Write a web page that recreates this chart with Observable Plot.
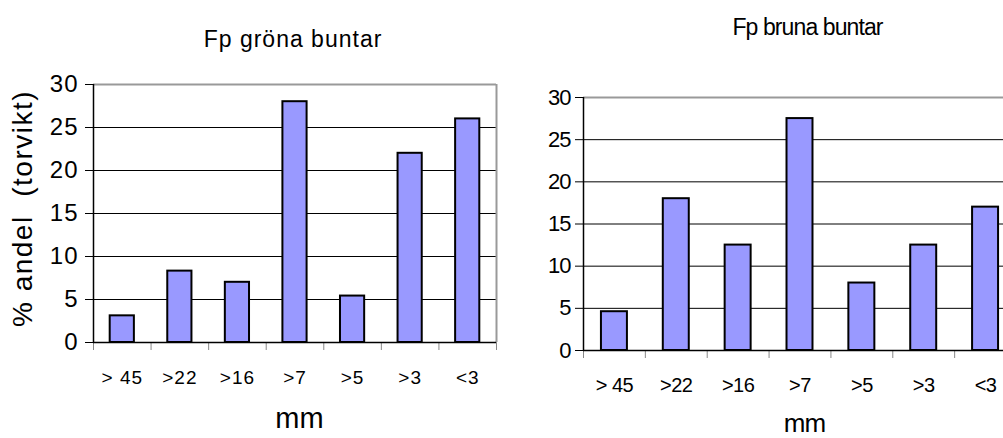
<!DOCTYPE html>
<html>
<head>
<meta charset="utf-8">
<script src="https://cdn.jsdelivr.net/npm/d3@7"></script>
<script src="https://cdn.jsdelivr.net/npm/@observablehq/plot@0.6"></script>
<style>
  html, body { margin: 0; padding: 0; background: #fff; overflow: hidden; }
  #wrap { position: relative; width: 1003px; height: 438px; overflow: hidden; }
  #left, #right { position: absolute; top: 0; }
  #left { left: 0; width: 500px; }
  #right { left: 500px; width: 520px; }
  svg { overflow: visible; max-width: none !important; }
</style>
</head>
<body>
<div id="wrap"><div id="left"></div><div id="right"></div></div>
<script>
const categories = ["> 45", ">22", ">16", ">7", ">5", ">3", "<3"];
const greenValues = [3.1, 8.3, 7.0, 28.0, 5.4, 22.0, 26.0];
const brownValues = [4.6, 18.0, 12.5, 27.5, 8.0, 12.5, 17.0];
const yTicks = [0, 5, 10, 15, 20, 25, 30];
const gridTicks = [5, 10, 15, 20, 25];
const titleLeft = "Fp gröna buntar";
const titleRight = "Fp bruna buntar";
const yLabel = "% andel  (torvikt)";
const xLabel = "mm";

function chart(values, o) {
  const data = categories.map((c, i) => ({c, i, v: values[i]}));
  const bounds = d3.range(categories.length + 1);
  const centers = categories.map((c, i) => i + 0.5);
  const marks = [
    Plot.ruleY(gridTicks, {stroke: "#000", strokeWidth: 1}),
    Plot.ruleY([30], {stroke: "#999", strokeWidth: 2}),
    Plot.ruleX([categories.length], {stroke: "#999", strokeWidth: 2}),
    Plot.rectY(data, {x1: d => d.i + 0.29, x2: d => d.i + 0.71, y: "v", fill: "#9999ff", stroke: "#000", strokeWidth: 2}),
    Plot.axisY({ticks: yTicks, tickSize: 8, tickPadding: o.ytp, fontSize: o.yfs, stroke: "#000", label: null}),
    Plot.axisX({ticks: bounds, tickSize: 8, tickFormat: () => "", stroke: "#888", label: null}),
    Plot.axisX({ticks: centers, tickSize: 0, tickPadding: o.xtp, fontSize: o.xfs, tickFormat: (d) => categories[Math.floor(d)], label: null}),
    Plot.ruleY([0], {stroke: "#000", strokeWidth: 1.5}),
    Plot.ruleX([0], {stroke: "#000", strokeWidth: 1.5}),
    Plot.text([xLabel], {frameAnchor: "bottom", lineAnchor: "middle", textAnchor: "middle", dx: o.mmdx, dy: o.mmdy, fontSize: o.mmfs, text: d => d}),
    Plot.text([o.title], {frameAnchor: "top", lineAnchor: "middle", textAnchor: "middle", dx: o.tdx, dy: o.tdy, fontSize: o.tfs, text: d => d})
  ];
  if (o.yLabel) {
    marks.push(Plot.text([o.yLabel], {frameAnchor: "left", rotate: -90, lineAnchor: "middle", textAnchor: "middle", dx: o.yldx, dy: o.yldy, fontSize: 28, text: d => d}));
  }
  const svg = Plot.plot({
    width: o.width, height: o.height,
    marginLeft: o.ml, marginRight: o.mr, marginTop: o.mt, marginBottom: o.mb,
    style: {fontFamily: "'Liberation Sans', Arial, sans-serif", color: "#000", background: "transparent", maxWidth: "none"},
    x: {domain: [0, categories.length], axis: null},
    y: {domain: [0, 30], axis: null},
    marks
  });
  const s = d3.select(svg);
  s.selectAll('g[aria-label="y-axis tick label"]').style("letter-spacing", o.yls + "px").style("font-size", o.yfs + "px");
  s.selectAll('g[aria-label="x-axis tick label"]').style("letter-spacing", o.xls + "px").style("font-size", o.xfs + "px");
  const texts = s.selectAll('g[aria-label="text"]').nodes();
  d3.select(texts[0]).style("letter-spacing", o.mmls + "px");
  d3.select(texts[1]).style("letter-spacing", o.tls + "px");
  if (texts[2]) d3.select(texts[2]).style("letter-spacing", "1.5px").style("white-space", "pre").attr("xml:space", "preserve");
  return svg;
}

const left = chart(greenValues, {
  width: 500, height: 438, ml: 93, mr: 4, mt: 84, mb: 96,
  yfs: 24, yls: 1, ytp: 7,
  xfs: 19, xls: 1, xtp: 27.5,
  mmfs: 29, mmls: 0, mmdx: 4.5, mmdy: 76.7,
  tfs: 23, tls: 1, tdx: -2, tdy: -44.7,
  yLabel: yLabel, yldx: -70, yldy: -5,
  title: titleLeft
});
document.getElementById("left").appendChild(left);

const right = chart(brownValues, {
  width: 520, height: 438, ml: 83, mr: 4, mt: 97, mb: 88,
  yfs: 22, yls: -1, ytp: 5,
  xfs: 20, xls: -0.5, xtp: 27,
  mmfs: 26, mmls: -1, mmdx: 4.5, mmdy: 73.5,
  tfs: 23, tls: -0.9, tdx: 7.5, tdy: -69.4,
  yLabel: null,
  title: titleRight
});
document.getElementById("right").appendChild(right);
</script>
</body>
</html>
